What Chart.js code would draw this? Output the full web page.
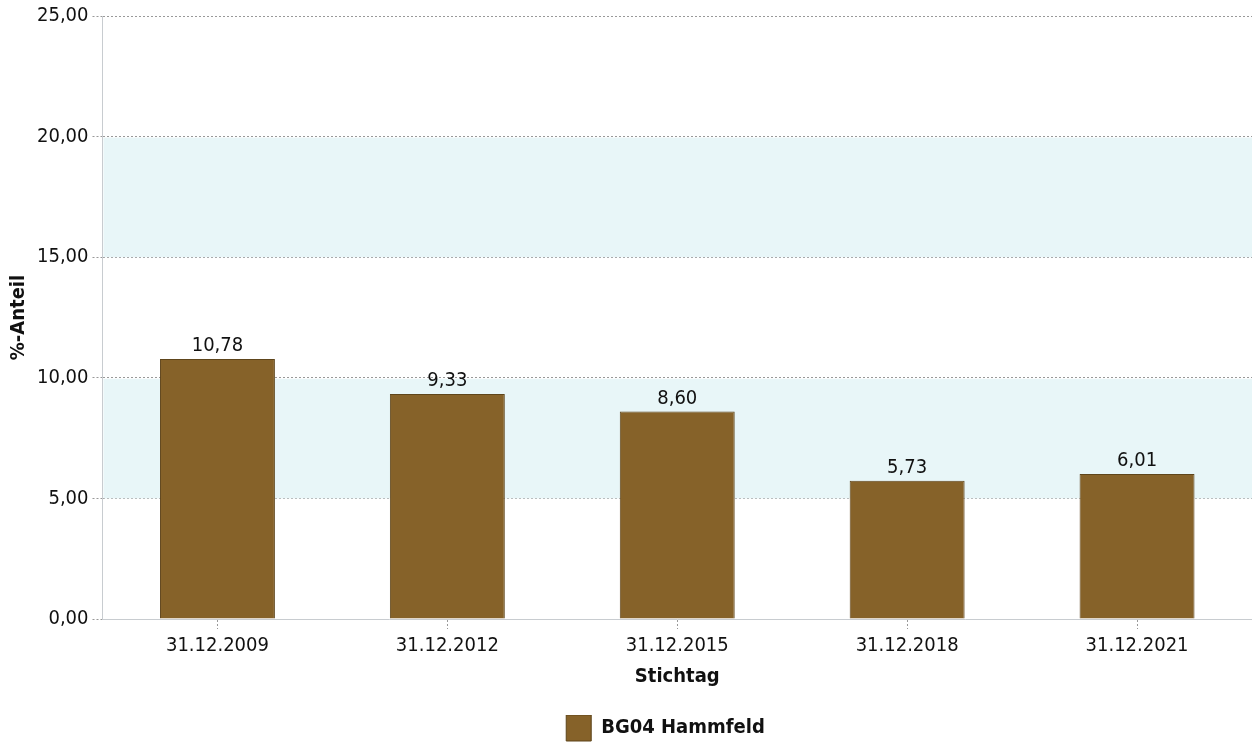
<!DOCTYPE html>
<html>
<head>
<meta charset="utf-8">
<script src="https://cdn.jsdelivr.net/npm/chart.js@4"></script>
<style>
  html, body { margin:0; padding:0; background:#fff; }
  #wrap { width:1252px; height:746px; }
</style>
</head>
<body>
<div id="wrap"><canvas id="chart" width="1252" height="746"></canvas></div>
<script>
// data
const categories = ['31.12.2009', '31.12.2012', '31.12.2015', '31.12.2018', '31.12.2021'];
const seriesName = 'BG04 Hammfeld';
const values = [10.78, 9.33, 8.60, 5.73, 6.01];
const yTicks = [0, 5, 10, 15, 20, 25];
const bands = [[5, 10], [15, 20]];

const FONT = "'DejaVu Sans Condensed', 'DejaVu Sans', sans-serif";
const fmt = v => v.toFixed(2).replace('.', ',');

// shaded bands behind bars
const bandPlugin = {
  id: 'bands',
  beforeDatasetsDraw(chart) {
    const { ctx, chartArea, scales: { y } } = chart;
    ctx.save();
    ctx.fillStyle = '#e8f6f8';
    bands.forEach(([lo, hi]) => {
      const top = y.getPixelForValue(hi), bot = y.getPixelForValue(lo);
      ctx.fillRect(chartArea.left + 1, top + 1, chartArea.right - chartArea.left, bot - top - 1);
    });
    ctx.restore();
  }
};

// value labels above bars
const labelPlugin = {
  id: 'valueLabels',
  afterDatasetsDraw(chart) {
    const { ctx } = chart;
    ctx.save();
    ctx.font = '20px ' + FONT;
    ctx.fillStyle = '#111';
    ctx.textAlign = 'center';
    ctx.textBaseline = 'bottom';
    chart.getDatasetMeta(0).data.forEach((bar, i) => {
      ctx.fillText(fmt(values[i]), bar.x, bar.y - 3);
    });
    ctx.restore();
  }
};

// legend sits centred under the plot, not the canvas
const legendShift = {
  id: 'legendShift',
  afterLayout(chart) {
    const dx = 38, dy = 5;
    chart.legend.left += dx;
    chart.legend.right += dx;
    chart.legend.top += dy;
    chart.legend.bottom += dy;
  }
};

new Chart(document.getElementById('chart'), {
  type: 'bar',
  data: {
    labels: categories,
    datasets: [{
      label: seriesName,
      data: values,
      backgroundColor: '#866229',
      borderColor: '#5e451b',
      borderWidth: 1,
      categoryPercentage: 1,
      barPercentage: 0.5
    }]
  },
  options: {
    responsive: false,
    animation: false,
    layout: { padding: { top: 15, right: 0, left: 3, bottom: 0 } },
    plugins: {
      tooltip: { enabled: false },
      legend: {
        position: 'bottom',
        labels: {
          boxWidth: 25, boxHeight: 26, padding: 0,
          color: '#111',
          font: { family: FONT, size: 20, weight: 'bold' }
        }
      }
    },
    scales: {
      x: {
        grid: {
          offset: false, drawOnChartArea: false, drawTicks: true, tickLength: 10,
          tickColor: '#999', tickBorderDash: [2, 2]
        },
        border: { color: '#c8ccd0', width: 1 },
        ticks: { color: '#111', padding: 5, font: { family: FONT, size: 20 } },
        title: { display: true, text: 'Stichtag', color: '#111', padding: { top: 2, bottom: 21 },
                 font: { family: FONT, size: 20, weight: 'bold' } }
      },
      y: {
        min: 0, max: 25,
        afterBuildTicks(axis) { axis.ticks = yTicks.map(v => ({ value: v })); },
        grid: { color: '#999', tickLength: 10, tickColor: '#999', tickBorderDash: [2, 2] },
        border: { color: '#c8ccd0', width: 1, dash: [2, 2] },
        ticks: { color: '#111', padding: 4, font: { family: FONT, size: 20 }, callback: v => fmt(v) },
        title: { display: true, text: '%-Anteil', color: '#111', padding: { top: 4, bottom: 2 },
                 font: { family: FONT, size: 20, weight: 'bold' } }
      }
    }
  },
  plugins: [bandPlugin, labelPlugin, legendShift]
});
</script>
</body>
</html>
